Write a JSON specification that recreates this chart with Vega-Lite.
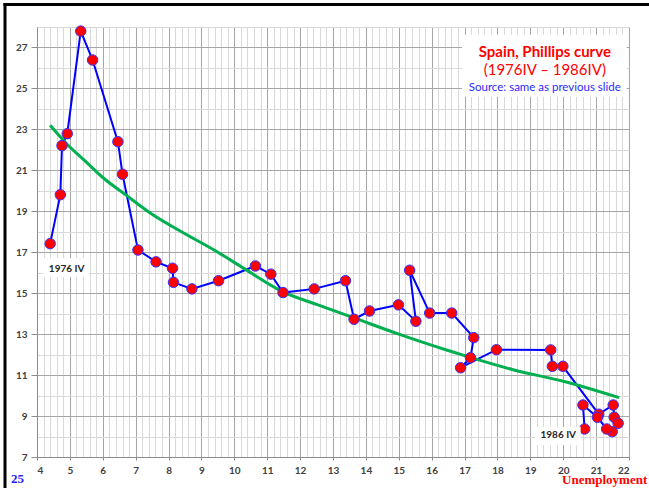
{
  "$schema": "https://vega.github.io/schema/vega-lite/v6.json",
  "autosize": {"type": "none"},
  "width": 592,
  "height": 430,
  "padding": {"left": 37, "top": 27, "right": 20, "bottom": 31},
  "background": "white",
  "config": {"view": {"stroke": null}, "axis": {"labelOverlap": false, "title": null}},
  "datasets": {
    "obs": [
      {"i": 1, "u": 4.40, "p": 17.42},
      {"i": 2, "u": 4.71, "p": 19.81},
      {"i": 3, "u": 4.76, "p": 22.21},
      {"i": 4, "u": 4.92, "p": 22.79},
      {"i": 5, "u": 5.33, "p": 27.80},
      {"i": 6, "u": 5.69, "p": 26.39},
      {"i": 7, "u": 6.46, "p": 22.40},
      {"i": 8, "u": 6.60, "p": 20.81},
      {"i": 9, "u": 7.07, "p": 17.11},
      {"i": 10, "u": 7.62, "p": 16.53},
      {"i": 11, "u": 8.12, "p": 16.22},
      {"i": 12, "u": 8.15, "p": 15.53},
      {"i": 13, "u": 8.71, "p": 15.21},
      {"i": 14, "u": 9.52, "p": 15.61},
      {"i": 15, "u": 10.64, "p": 16.33},
      {"i": 16, "u": 11.11, "p": 15.93},
      {"i": 17, "u": 11.48, "p": 15.03},
      {"i": 18, "u": 12.43, "p": 15.21},
      {"i": 19, "u": 13.38, "p": 15.61},
      {"i": 20, "u": 13.64, "p": 13.73},
      {"i": 21, "u": 14.11, "p": 14.13},
      {"i": 22, "u": 14.99, "p": 14.43},
      {"i": 23, "u": 15.52, "p": 13.63},
      {"i": 24, "u": 15.33, "p": 16.12},
      {"i": 25, "u": 15.94, "p": 14.03},
      {"i": 26, "u": 16.61, "p": 14.03},
      {"i": 27, "u": 17.28, "p": 12.83},
      {"i": 28, "u": 17.18, "p": 11.85},
      {"i": 29, "u": 16.88, "p": 11.36},
      {"i": 30, "u": 17.97, "p": 12.24},
      {"i": 31, "u": 19.62, "p": 12.23},
      {"i": 32, "u": 19.67, "p": 11.43},
      {"i": 33, "u": 19.99, "p": 11.43},
      {"i": 34, "u": 21.08, "p": 9.09},
      {"i": 35, "u": 21.52, "p": 9.54},
      {"i": 36, "u": 21.55, "p": 8.94},
      {"i": 37, "u": 21.67, "p": 8.65},
      {"i": 38, "u": 21.49, "p": 8.24},
      {"i": 39, "u": 21.32, "p": 8.37},
      {"i": 40, "u": 21.04, "p": 8.94},
      {"i": 41, "u": 20.60, "p": 9.54},
      {"i": 42, "u": 20.65, "p": 8.37}
    ],
    "fit": [
      {"u": 4.4, "p": 23.2},
      {"u": 4.9, "p": 22.3},
      {"u": 5.5, "p": 21.4},
      {"u": 6.0, "p": 20.65},
      {"u": 6.7, "p": 19.8},
      {"u": 7.5, "p": 18.85},
      {"u": 8.5, "p": 17.9},
      {"u": 9.5, "p": 17.0},
      {"u": 10.3, "p": 16.2},
      {"u": 11.5, "p": 15.05},
      {"u": 12.5, "p": 14.45},
      {"u": 13.6, "p": 13.82},
      {"u": 15.0, "p": 13.0},
      {"u": 16.5, "p": 12.2},
      {"u": 17.2, "p": 11.85},
      {"u": 18.5, "p": 11.25},
      {"u": 20.0, "p": 10.7},
      {"u": 21.7, "p": 9.9}
    ],
    "one": [{"k": 1}]
  },
  "layer": [
    {
      "data": {"name": "obs"},
      "mark": {"type": "line", "color": "#0000ff", "strokeWidth": 2},
      "encoding": {
        "x": {
          "field": "u", "type": "quantitative",
          "scale": {"domain": [4, 22], "nice": false, "zero": false},
          "axis": {
            "title": null,
            "tickCount": 500,
            "values": [4,4.2,4.4,4.6,4.8,5,5.2,5.4,5.6,5.8,6,6.2,6.4,6.6,6.8,7,7.2,7.4,7.6,7.8,8,8.2,8.4,8.6,8.8,9,9.2,9.4,9.6,9.8,10,10.2,10.4,10.6,10.8,11,11.2,11.4,11.6,11.8,12,12.2,12.4,12.6,12.8,13,13.2,13.4,13.6,13.8,14,14.2,14.4,14.6,14.8,15,15.2,15.4,15.6,15.8,16,16.2,16.4,16.6,16.8,17,17.2,17.4,17.6,17.8,18,18.2,18.4,18.6,18.8,19,19.2,19.4,19.6,19.8,20,20.2,20.4,20.6,20.8,21,21.2,21.4,21.6,21.8,22],
            "labelExpr": "datum.value % 1 === 0 ? format(datum.value, 'd') : ''",
            "labelOverlap": false,
            "labelBound": false,
            "labelFont": "Lato",
            "labelFontWeight": "bold",
            "labelFontSize": 10,
            "labelColor": "#404040",
            "labelPadding": 5,
            "tickSize": 3,
            "tickColor": {"condition": {"test": "datum.value % 1 === 0", "value": "#8c8c8c"}, "value": "transparent"},
            "domainColor": "#8c8c8c",
            "grid": true,
            "gridColor": {"condition": {"test": "datum.value % 1 === 0", "value": "#a6a6a6"}, "value": "#d9d9d9"},
            "gridWidth": 1
          }
        },
        "y": {
          "field": "p", "type": "quantitative",
          "scale": {"domain": [7, 28], "nice": false, "zero": false},
          "axis": {
            "title": null,
            "tickCount": 100,
            "values": [7,8,9,10,11,12,13,14,15,16,17,18,19,20,21,22,23,24,25,26,27,28],
            "labelExpr": "datum.value % 2 === 1 ? format(datum.value, 'd') : ''",
            "labelOverlap": false,
            "labelFont": "Lato",
            "labelFontWeight": "bold",
            "labelFontSize": 10,
            "labelColor": "#404040",
            "labelPadding": 4,
            "tickSize": 6,
            "tickColor": {"condition": {"test": "datum.value % 2 === 1", "value": "#8c8c8c"}, "value": "transparent"},
            "domainColor": "#8c8c8c",
            "grid": true,
            "gridColor": {"condition": {"test": "datum.value % 2 === 1", "value": "#a6a6a6"}, "value": "#d9d9d9"},
            "gridWidth": 1
          }
        },
        "order": {"field": "i", "type": "quantitative"}
      }
    },
    {
      "data": {"name": "fit"},
      "mark": {"type": "line", "color": "#00b050", "strokeWidth": 3, "interpolate": "monotone"},
      "encoding": {
        "x": {"field": "u", "type": "quantitative", "scale": {"domain": [4, 22], "nice": false, "zero": false}, "axis": {"title": null, "labelOverlap": false}},
        "y": {"field": "p", "type": "quantitative", "scale": {"domain": [7, 28], "nice": false, "zero": false}, "axis": {"title": null, "labelOverlap": false}}
      }
    },
    {
      "data": {"name": "obs"},
      "mark": {"type": "point", "filled": true, "fill": "#ff0000", "stroke": "#3333ff", "strokeWidth": 1, "size": 110, "opacity": 1},
      "encoding": {
        "x": {"field": "u", "type": "quantitative", "scale": {"domain": [4, 22], "nice": false, "zero": false}, "axis": {"title": null, "labelOverlap": false}},
        "y": {"field": "p", "type": "quantitative", "scale": {"domain": [7, 28], "nice": false, "zero": false}, "axis": {"title": null, "labelOverlap": false}}
      }
    },
    {
      "data": {"name": "one"},
      "mark": {"type": "rect", "fill": "white"},
      "encoding": {
        "x": {"datum": 16.92, "type": "quantitative", "scale": {"domain": [4, 22], "nice": false, "zero": false}, "axis": {"title": null, "labelOverlap": false}},
        "x2": {"datum": 21.93},
        "y": {"datum": 27.62, "type": "quantitative", "scale": {"domain": [7, 28], "nice": false, "zero": false}, "axis": {"title": null, "labelOverlap": false}},
        "y2": {"datum": 24.59}
      }
    },
    {
      "data": {"name": "one"},
      "mark": {"type": "rect", "fill": "white"},
      "encoding": {
        "x": {"datum": 4.18, "type": "quantitative", "scale": {"domain": [4, 22], "nice": false, "zero": false}, "axis": {"title": null, "labelOverlap": false}},
        "x2": {"datum": 5.58},
        "y": {"datum": 16.72, "type": "quantitative", "scale": {"domain": [7, 28], "nice": false, "zero": false}, "axis": {"title": null, "labelOverlap": false}},
        "y2": {"datum": 15.79}
      }
    },
    {
      "data": {"name": "one"},
      "mark": {"type": "rect", "fill": "white"},
      "encoding": {
        "x": {"datum": 19.14, "type": "quantitative", "scale": {"domain": [4, 22], "nice": false, "zero": false}, "axis": {"title": null, "labelOverlap": false}},
        "x2": {"datum": 20.53},
        "y": {"datum": 8.48, "type": "quantitative", "scale": {"domain": [7, 28], "nice": false, "zero": false}, "axis": {"title": null, "labelOverlap": false}},
        "y2": {"datum": 7.59}
      }
    },
    {
      "data": {"name": "one"},
      "mark": {"type": "text", "text": "Spain, Phillips curve", "font": "Lato", "fontWeight": "bold", "fontSize": 15, "color": "#ff0000", "align": "center", "baseline": "middle"},
      "encoding": {
        "x": {"datum": 19.44, "type": "quantitative", "scale": {"domain": [4, 22], "nice": false, "zero": false}, "axis": {"title": null, "labelOverlap": false}},
        "y": {"datum": 26.78, "type": "quantitative", "scale": {"domain": [7, 28], "nice": false, "zero": false}, "axis": {"title": null, "labelOverlap": false}}
      }
    },
    {
      "data": {"name": "one"},
      "mark": {"type": "text", "text": "(1976IV – 1986IV)", "font": "Lato", "fontSize": 15, "color": "#ff0000", "align": "center", "baseline": "middle"},
      "encoding": {
        "x": {"datum": 19.44, "type": "quantitative", "scale": {"domain": [4, 22], "nice": false, "zero": false}, "axis": {"title": null, "labelOverlap": false}},
        "y": {"datum": 25.88, "type": "quantitative", "scale": {"domain": [7, 28], "nice": false, "zero": false}, "axis": {"title": null, "labelOverlap": false}}
      }
    },
    {
      "data": {"name": "one"},
      "mark": {"type": "text", "text": "Source: same as previous slide", "font": "Lato", "fontSize": 11.5, "color": "#2a2aff", "align": "center", "baseline": "middle"},
      "encoding": {
        "x": {"datum": 19.44, "type": "quantitative", "scale": {"domain": [4, 22], "nice": false, "zero": false}, "axis": {"title": null, "labelOverlap": false}},
        "y": {"datum": 25.04, "type": "quantitative", "scale": {"domain": [7, 28], "nice": false, "zero": false}, "axis": {"title": null, "labelOverlap": false}}
      }
    },
    {
      "data": {"name": "one"},
      "mark": {"type": "text", "text": "1976 IV", "font": "Lato", "fontWeight": "bold", "fontSize": 10, "color": "#262626", "align": "center", "baseline": "middle"},
      "encoding": {
        "x": {"datum": 4.9, "type": "quantitative", "scale": {"domain": [4, 22], "nice": false, "zero": false}, "axis": {"title": null, "labelOverlap": false}},
        "y": {"datum": 16.2, "type": "quantitative", "scale": {"domain": [7, 28], "nice": false, "zero": false}, "axis": {"title": null, "labelOverlap": false}}
      }
    },
    {
      "data": {"name": "one"},
      "mark": {"type": "text", "text": "1986 IV", "font": "Lato", "fontWeight": "bold", "fontSize": 10, "color": "#262626", "align": "center", "baseline": "middle"},
      "encoding": {
        "x": {"datum": 19.85, "type": "quantitative", "scale": {"domain": [4, 22], "nice": false, "zero": false}, "axis": {"title": null, "labelOverlap": false}},
        "y": {"datum": 8.07, "type": "quantitative", "scale": {"domain": [7, 28], "nice": false, "zero": false}, "axis": {"title": null, "labelOverlap": false}}
      }
    },
    {
      "data": {"name": "one"},
      "mark": {"type": "text", "text": "25", "font": "Liberation Serif", "fontWeight": "bold", "fontSize": 13, "color": "#2323ff", "align": "center", "baseline": "middle", "clip": false},
      "encoding": {
        "x": {"datum": 3.41, "type": "quantitative", "scale": {"domain": [4, 22], "nice": false, "zero": false}, "axis": {"title": null, "labelOverlap": false}},
        "y": {"datum": 5.95, "type": "quantitative", "scale": {"domain": [7, 28], "nice": false, "zero": false}, "axis": {"title": null, "labelOverlap": false}}
      }
    },
    {
      "data": {"name": "one"},
      "mark": {"type": "text", "text": "Unemployment", "font": "Liberation Serif", "fontWeight": "bold", "fontSize": 13, "color": "#ff0000", "align": "center", "baseline": "middle", "clip": false},
      "encoding": {
        "x": {"datum": 21.26, "type": "quantitative", "scale": {"domain": [4, 22], "nice": false, "zero": false}, "axis": {"title": null, "labelOverlap": false}},
        "y": {"datum": 5.86, "type": "quantitative", "scale": {"domain": [7, 28], "nice": false, "zero": false}, "axis": {"title": null, "labelOverlap": false}}
      }
    },
    {
      "data": {"name": "one"},
      "mark": {"type": "rule", "color": "black", "strokeWidth": 3, "clip": false},
      "encoding": {
        "x": {"datum": 2.98, "type": "quantitative", "scale": {"domain": [4, 22], "nice": false, "zero": false}, "axis": {"title": null, "labelOverlap": false}},
        "x2": {"datum": 22.8},
        "y": {"datum": 29.1, "type": "quantitative", "scale": {"domain": [7, 28], "nice": false, "zero": false}, "axis": {"title": null, "labelOverlap": false}}
      }
    },
    {
      "data": {"name": "one"},
      "mark": {"type": "rule", "color": "black", "strokeWidth": 3, "clip": false},
      "encoding": {
        "x": {"datum": 3.027, "type": "quantitative", "scale": {"domain": [4, 22], "nice": false, "zero": false}, "axis": {"title": null, "labelOverlap": false}},
        "y": {"datum": 29.17, "type": "quantitative", "scale": {"domain": [7, 28], "nice": false, "zero": false}, "axis": {"title": null, "labelOverlap": false}},
        "y2": {"datum": 5.2}
      }
    }
  ]
}
